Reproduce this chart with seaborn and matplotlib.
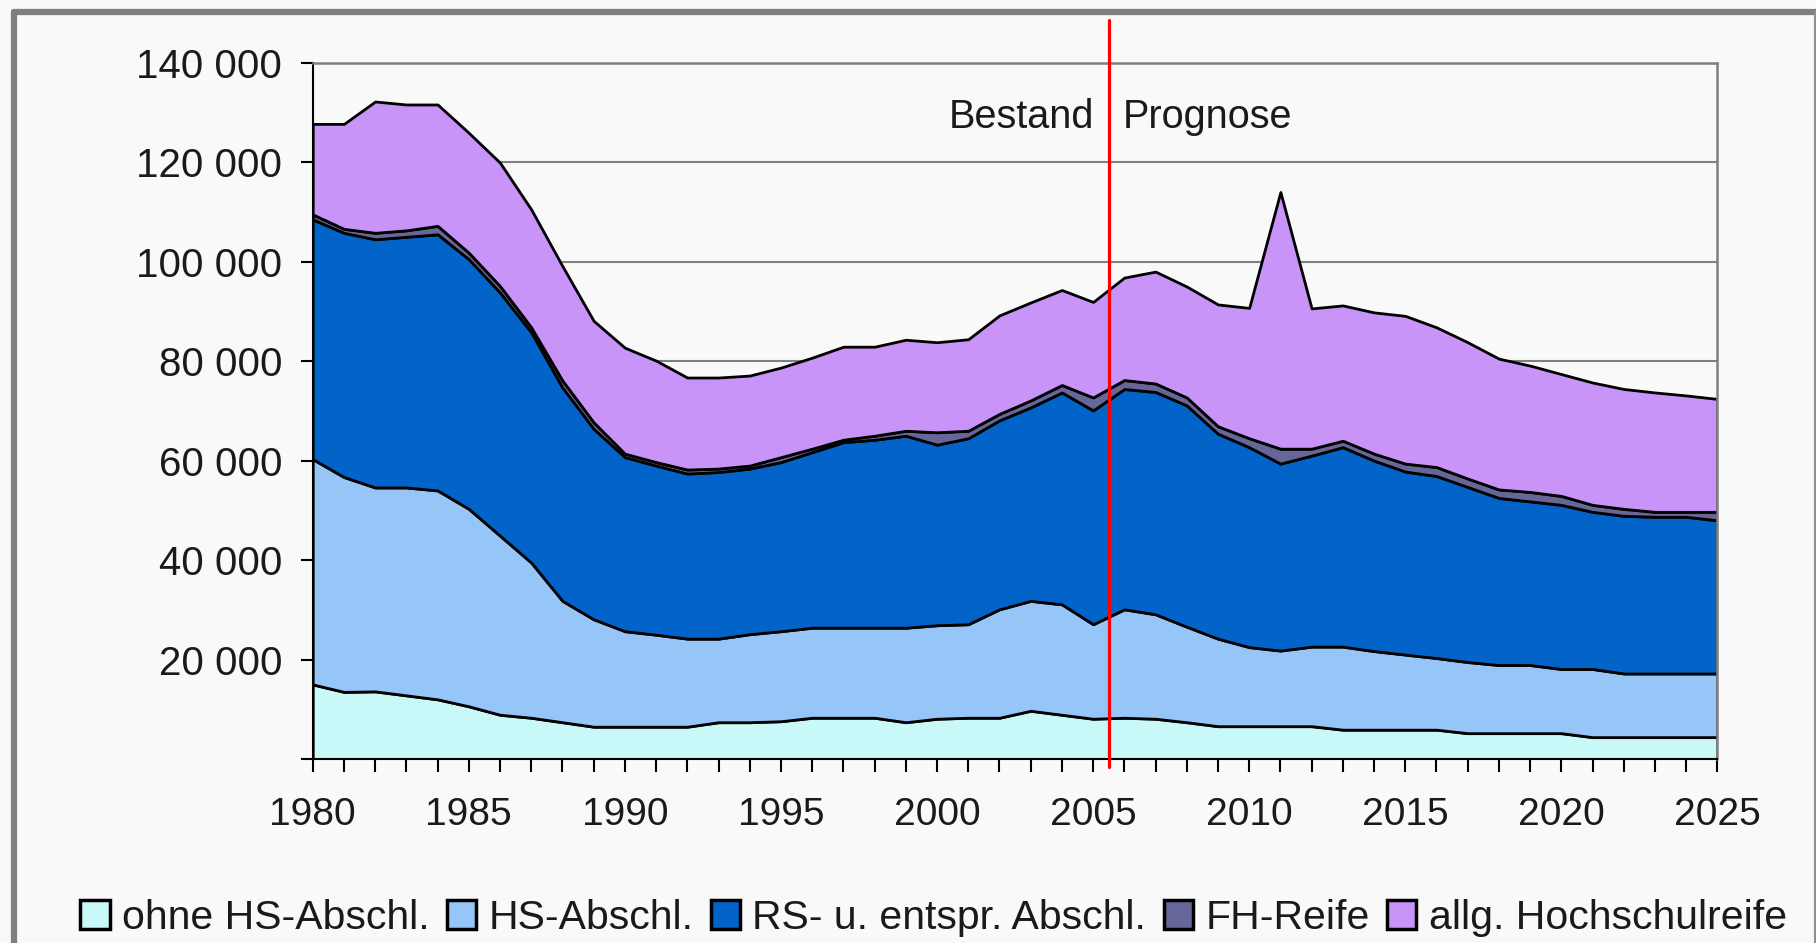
import matplotlib
matplotlib.use("Agg")
import matplotlib.pyplot as plt
from matplotlib.lines import Line2D
from matplotlib.patches import Patch
from matplotlib.ticker import FuncFormatter, MultipleLocator
import seaborn as sns
import pandas as pd

# Schulabgänger nach Abschlussart (Werte in 1000), Bestand bis 2005, danach Prognose
years = list(range(1980, 2026))
ohne_hs = [15.0, 13.5, 13.6, 12.8, 12.0, 10.6, 8.9, 8.3, 7.4, 6.5,
           6.5, 6.5, 6.5, 7.4, 7.4, 7.6, 8.3, 8.3, 8.3, 7.4,
           8.1, 8.3, 8.3, 9.7, 8.9, 8.1, 8.3, 8.1, 7.4, 6.6,
           6.6, 6.6, 6.6, 5.9, 5.9, 5.9, 5.9, 5.2, 5.2, 5.2,
           5.2, 4.4, 4.4, 4.4, 4.4, 4.4]
hs_abschl = [45.3, 43.2, 41.0, 41.8, 42.0, 39.7, 36.0, 31.2, 24.4, 21.6,
             19.2, 18.5, 17.7, 16.8, 17.7, 18.1, 18.1, 18.1, 18.1, 19.0,
             18.8, 18.8, 21.8, 22.1, 22.2, 19.0, 21.8, 21.0, 19.2, 17.6,
             15.9, 15.2, 16.0, 16.7, 15.8, 15.1, 14.4, 14.3, 13.7, 13.7,
             12.9, 13.7, 12.8, 12.8, 12.8, 12.8]
rs_abschl = [48.2, 49.1, 49.9, 50.4, 51.5, 50.2, 48.9, 46.3, 42.9, 38.3,
             35.0, 34.0, 33.2, 33.5, 33.3, 34.0, 35.3, 37.3, 37.8, 38.6,
             36.3, 37.4, 38.0, 38.9, 42.6, 43.0, 44.3, 44.7, 44.5, 41.2,
             40.2, 37.6, 38.4, 40.1, 38.3, 36.8, 36.6, 35.2, 33.6, 32.9,
             33.0, 31.6, 31.7, 31.5, 31.5, 30.8]
fh_reife = [1.0, 0.8, 1.3, 1.3, 1.7, 1.3, 1.3, 1.0, 1.4, 1.3,
            0.7, 0.7, 0.8, 0.7, 0.6, 1.0, 0.7, 0.5, 0.8, 1.0,
            2.5, 1.5, 1.3, 1.4, 1.5, 2.6, 1.8, 1.7, 1.6, 1.5,
            1.8, 3.0, 1.4, 1.3, 1.4, 1.6, 1.8, 1.7, 1.7, 1.9,
            1.8, 1.4, 1.4, 1.0, 1.0, 1.7]
allg_hsr = [18.2, 21.1, 26.4, 25.3, 24.4, 24.1, 24.8, 23.7, 23.0, 20.4,
            21.3, 20.4, 18.5, 18.3, 18.1, 18.0, 18.3, 18.7, 17.9, 18.3,
            18.1, 18.4, 19.8, 19.7, 19.1, 19.2, 20.6, 22.5, 22.3, 24.5,
            26.2, 51.6, 28.2, 27.2, 28.4, 29.7, 28.1, 27.4, 26.3, 25.4,
            24.5, 24.6, 24.1, 24.0, 23.4, 22.7]

labels = ["ohne HS-Abschl.", "HS-Abschl.", "RS- u. entspr. Abschl.",
          "FH-Reife", "allg. Hochschulreife"]
colors = ["#C8F8F8", "#96C6F8", "#0264C8", "#666699", "#C894F8"]

df = pd.DataFrame({"Jahr": years, labels[0]: ohne_hs, labels[1]: hs_abschl,
                   labels[2]: rs_abschl, labels[3]: fh_reife, labels[4]: allg_hsr})
for col in labels:
    df[col] = df[col] * 1000

sns.set_theme(style="white")
plt.rcParams["font.family"] = ["Liberation Sans", "DejaVu Sans"]

bg = "#f9f9f9"
fig = plt.figure(figsize=(18.16, 9.43), dpi=100, facecolor=bg)
ax = fig.add_axes([0.1722, 0.1951, 0.7735, 0.7384], facecolor=bg)

ax.stackplot(df["Jahr"], [df[c] for c in labels], colors=colors,
             edgecolor="black", linewidth=2.0, zorder=2)

ax.set_xlim(1980, 2025)
ax.set_ylim(0, 140000)
ax.set_axisbelow(True)
ax.yaxis.grid(True, color="#808080", linewidth=1.5)
ax.xaxis.grid(False)

ax.xaxis.set_major_locator(MultipleLocator(5))
ax.xaxis.set_minor_locator(MultipleLocator(1))
ax.yaxis.set_major_locator(MultipleLocator(20000))
ax.yaxis.set_major_formatter(FuncFormatter(
    lambda v, p: "" if v == 0 else f"{int(v):,}".replace(",", " ")))
ax.tick_params(axis="both", which="both", direction="out", length=9,
               width=1.5, color="black", labelcolor="#1a1a1a")
ax.tick_params(axis="x", which="both", pad=18, bottom=True, labelsize=28)
ax.tick_params(axis="y", pad=13, left=True, labelsize=29)

for side in ["left", "bottom"]:
    ax.spines[side].set_color("black")
    ax.spines[side].set_linewidth(1.5)
for side in ["top", "right"]:
    ax.spines[side].set_color("#808080")
    ax.spines[side].set_linewidth(1.8)

# Trennlinie Bestand / Prognose
ax.axvline(2005.5, ymin=-0.011, ymax=1.062, color="#ff0000", linewidth=2.3,
           clip_on=False, zorder=5)
ax.text(2005.02, 126800, "Bestand", ha="right", va="baseline", fontsize=28.5,
        color="#1a1a1a")
ax.text(2005.95, 126800, "Prognose", ha="left", va="baseline", fontsize=28.5,
        color="#1a1a1a")

handles = [Patch(facecolor=c, edgecolor="black", linewidth=2.5) for c in colors]
fig.legend(handles, labels, loc="center", bbox_to_anchor=(0.514, 0.0265),
           ncol=5, frameon=False, fontsize=29.5, handlelength=0.72,
           handleheight=0.72, handletextpad=0.3, columnspacing=0.42,
           borderpad=0, labelcolor="#1a1a1a")

# grauer Rahmen
fig.add_artist(Line2D([0.0077, 1.0], [0.9873, 0.9873], transform=fig.transFigure,
                      color="#808080", linewidth=4.5))
fig.add_artist(Line2D([0.0077, 0.0077], [0.0, 0.9873], transform=fig.transFigure,
                      color="#808080", linewidth=4.5))
fig.add_artist(Line2D([0.9993, 0.9993], [0.0, 0.9873], transform=fig.transFigure,
                      color="#909090", linewidth=1.5))

fig.savefig("out.png", dpi=100, facecolor=bg)
